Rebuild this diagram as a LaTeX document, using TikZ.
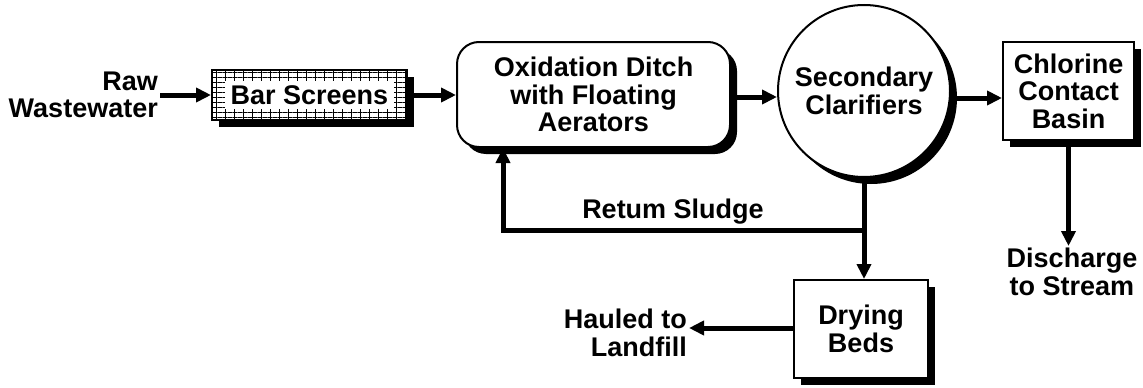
\documentclass[tikz,border=0pt]{standalone}
\usepackage{fontspec}
\setmainfont{Liberation Sans}
\usetikzlibrary{arrows.meta,positioning,shadows,patterns.meta}
\tikzset{
	>={Triangle[length=15pt,width=14pt]}, % big filled heads
	flow/.style={->, line width=5pt},
	every node/.style={font=\fontsize{27}{27.5}\selectfont\bfseries, align=center, inner sep=2pt},
	unit/.style={draw, line width=2pt, fill=white,
		drop shadow={fill=black, opacity=1, shadow xshift=7pt, shadow yshift=-7pt}},
	screen/.style={postaction={pattern={Lines[distance=5pt, angle=0, line width=1pt]}},
		postaction={pattern={Lines[distance=9pt, angle=90, line width=1pt]}}},
}
\begin{document}
\begin{tikzpicture}[x=1pt, y=-1pt]
      \useasboundingbox (0,0) rectangle (1143,388);

      \node[unit, screen, minimum width=195pt, minimum height=50pt] (bar) at (309.5,95) {};
      \node[fill=white, inner xsep=6pt, inner ysep=4pt] (barlabel) at (bar) {Bar Screens};
      \node[unit, rounded corners=22pt, minimum width=273pt, minimum height=105pt] (ditch) at (593.5,94.5)
            {Oxidation Ditch\\with Floating\\Aerators};
      \node[unit, circle, minimum size=172pt] (clar) at (864,91) {Secondary\\Clarifiers};
      \node[unit, minimum width=131pt, minimum height=98pt] (chlor) at (1068.5,91) {Chlorine\\Contact\\Basin};
      \node[unit, minimum width=134pt, minimum height=98pt] (dry) at (861,329) {Drying\\Beds};

      \node[anchor=east, align=right] (raw) at (160,95) {Raw\\Wastewater};
      \node[anchor=north] (discharge) at (1072,246) {Discharge\\to Stream};
      \node[anchor=east, align=right] (hauled) at (689,333) {Hauled to\\Landfill};
      \node (retlabel) at (673,212) {Retum Sludge};

      \coordinate (split) at (clar.south |- 0,230);
      \coordinate (ret) at (503,230);

      \draw[flow] (raw.east |- bar.west) -- (bar.west);
      \draw[flow] (bar.east) -- (ditch.west |- bar.east);
      \draw[flow] (ditch.east |- 0,97) -- (clar.west |- 0,97);
      \draw[flow] (clar.east |- 0,98) -- (chlor.west |- 0,98);
      \draw[flow] (chlor.south) -- (discharge.north -| chlor.south);
      \draw[flow] (clar.south) -- (clar.south |- dry.north);
      \draw[flow] (split) -- (ret) -- (ret |- ditch.south);
      \draw[flow] (dry.west |- 0,328) -- (hauled.east |- 0,328);
\end{tikzpicture}
\end{document}
